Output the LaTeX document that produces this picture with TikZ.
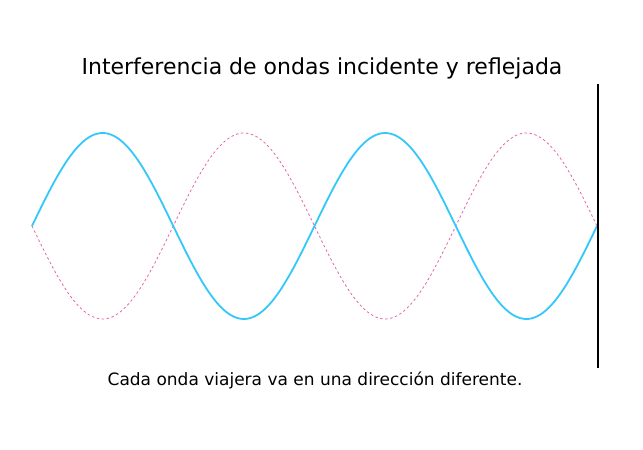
\documentclass[tikz,border=0pt]{standalone}
\usepackage{fontspec}
\setmainfont{DejaVu Sans}
\definecolor{wblue}{RGB}{51,199,250}
\definecolor{wpink}{RGB}{228,100,170}
\tikzset{
  incident/.style={wblue, line width=1.8pt},
  reflected/.style={wpink, line width=0.8pt, dash pattern=on 2.5pt off 2.5pt},
  wall/.style={black, line width=2pt},
  label/.style={inner sep=0pt, anchor=base}
}
\begin{document}
\begin{tikzpicture}[x=1pt,y=1pt]
\useasboundingbox (0,0) rectangle (643,450);
\node[label, font=\fontsize{22}{26}\selectfont] (title) at (322,375) {Interferencia de ondas incidente y reflejada};
\draw[reflected] plot[domain=32:597, samples=200, smooth] (\x, {224 - 93*sin(1.274336*(\x-32))});
\draw[incident] plot[domain=32:597, samples=200, smooth] (\x, {224 + 93*sin(1.274336*(\x-32))});
\coordinate (wtop) at (598,366);
\coordinate (wbot) at (598,82);
\draw[wall] (wtop) -- (wbot);
\node[label, font=\fontsize{17}{20}\selectfont] (caption) at (315,64) {Cada onda viajera va en una dirección diferente.};
\end{tikzpicture}
\end{document}
